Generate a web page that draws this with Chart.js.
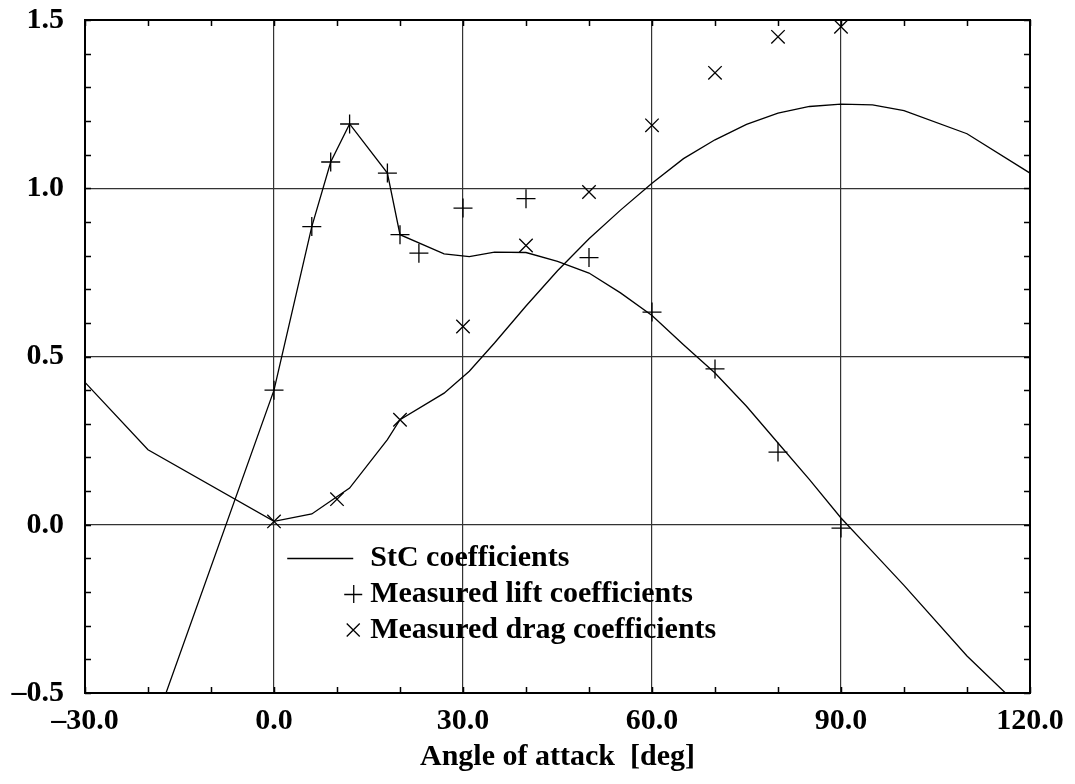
<!DOCTYPE html>
<html>
<head>
<meta charset="utf-8">
<script src="https://cdn.jsdelivr.net/npm/chart.js@4.4.1/dist/chart.umd.min.js"></script>
<style>
html,body{margin:0;padding:0;background:#fff;}
canvas{display:block;}
</style>
</head>
<body>
<canvas id="c" width="1075" height="784"></canvas>
<script>
// ---- data ----
const stcLiftX = [-20, 0, 6, 9, 12, 18, 20, 27, 31, 35, 40, 45, 50, 55, 60, 65, 70, 75, 80, 85, 90, 95, 100, 110, 120];
const stcLiftY = [-0.65, 0.40, 0.886, 1.078, 1.191, 1.045, 0.862, 0.805, 0.797, 0.810, 0.809, 0.783, 0.748, 0.689, 0.622, 0.535, 0.451, 0.352, 0.243, 0.134, 0.02, -0.08, -0.18, -0.39, -0.57];
const stcDragX = [-30, -20, 0, 6, 12, 18, 20, 27, 31, 35, 40, 45, 50, 55, 60, 65, 70, 75, 80, 85, 90, 95, 100, 110, 120];
const stcDragY = [0.423, 0.223, 0.010, 0.032, 0.109, 0.253, 0.312, 0.391, 0.456, 0.54, 0.65, 0.755, 0.85, 0.935, 1.015, 1.088, 1.144, 1.19, 1.223, 1.243, 1.25, 1.248, 1.231, 1.162, 1.045];
const liftX = [0, 6, 9, 12, 18, 20, 23, 30, 40, 50, 60, 70, 80, 90];
const liftY = [0.40, 0.886, 1.078, 1.191, 1.045, 0.862, 0.807, 0.941, 0.969, 0.794, 0.632, 0.463, 0.216, -0.010];
const dragX = [0, 10, 20, 30, 40, 50, 60, 70, 80, 90];
const dragY = [0.010, 0.076, 0.312, 0.589, 0.830, 0.989, 1.187, 1.343, 1.450, 1.480];
const xTickValues = [-30, 0, 30, 60, 90, 120];
const yTickValues = [-0.5, 0.0, 0.5, 1.0, 1.5];
const seriesLabels = ['StC coefficients', 'Measured lift coefficients', 'Measured drag coefficients'];
const xTitle = 'Angle of attack  [deg]';

const pts = (xs, ys) => xs.map((x, i) => ({x: x, y: ys[i]}));
const FONT = '"Liberation Serif", "Times New Roman", serif';
const fmt = v => { const s = Math.abs(v).toFixed(1); return v < -1e-9 ? '\u2013' + s : s; };

const frameAndTicks = {
  id: 'frameAndTicks',
  afterDatasetsDraw(chart) {
    const {ctx, chartArea: a, scales: {x, y}} = chart;
    ctx.save();
    ctx.strokeStyle = '#000';
    ctx.lineWidth = 1.5;
    const L = 6;
    ctx.beginPath();
    for (let v = -30; v <= 120; v += 10) {
      const px = Math.round(x.getPixelForValue(v)) + 0.5;
      ctx.moveTo(px, a.bottom); ctx.lineTo(px, a.bottom - L);
      ctx.moveTo(px, a.top); ctx.lineTo(px, a.top + L);
    }
    for (let k = -5; k <= 15; k++) {
      const py = Math.round(y.getPixelForValue(k / 10)) + 0.5;
      ctx.moveTo(a.left, py); ctx.lineTo(a.left + L, py);
      ctx.moveTo(a.right, py); ctx.lineTo(a.right - L, py);
    }
    ctx.stroke();
    ctx.lineWidth = 2;
    ctx.strokeRect(a.left, a.top, a.right - a.left, a.bottom - a.top);
    ctx.restore();
  }
};

const insideLegend = {
  id: 'insideLegend',
  afterDraw(chart) {
    const {ctx, scales: {x}} = chart;
    ctx.save();
    ctx.font = 'bold 30px ' + FONT;
    ctx.fillStyle = '#000';
    ctx.textBaseline = 'middle';
    ctx.textAlign = 'left';
    const x0 = x.getPixelForValue(2.1);
    const tx = x0 + 83;
    const rows = [558, 594, 630];
    ctx.strokeStyle = '#000';
    ctx.lineWidth = 1.3;
    ctx.beginPath();
    ctx.moveTo(x0, rows[0] + 0.5); ctx.lineTo(x0 + 66, rows[0] + 0.5);
    ctx.stroke();
    ctx.fillText(seriesLabels[0], tx, rows[0]);
    const mx = x0 + 66;
    ctx.beginPath();
    ctx.moveTo(mx - 9, rows[1] + 0.5); ctx.lineTo(mx + 9, rows[1] + 0.5);
    ctx.moveTo(mx + 0.5, rows[1] - 9); ctx.lineTo(mx + 0.5, rows[1] + 9);
    ctx.stroke();
    ctx.fillText(seriesLabels[1], tx, rows[1]);
    ctx.beginPath();
    ctx.moveTo(mx - 6.5, rows[2] - 6.5); ctx.lineTo(mx + 6.5, rows[2] + 6.5);
    ctx.moveTo(mx - 6.5, rows[2] + 6.5); ctx.lineTo(mx + 6.5, rows[2] - 6.5);
    ctx.stroke();
    ctx.fillText(seriesLabels[2], tx, rows[2]);
    ctx.restore();
  }
};

new Chart(document.getElementById('c'), {
  type: 'scatter',
  data: {
    datasets: [
      {type: 'line', label: seriesLabels[0], data: pts(stcLiftX, stcLiftY), borderColor: '#000', borderWidth: 1.3, pointRadius: 0, fill: false, tension: 0},
      {type: 'line', label: seriesLabels[0] + ' (drag)', data: pts(stcDragX, stcDragY), borderColor: '#000', borderWidth: 1.3, pointRadius: 0, fill: false, tension: 0},
      {label: seriesLabels[1], data: pts(liftX, liftY), pointStyle: 'cross', pointRadius: 9.5, pointBorderWidth: 1.3, borderColor: '#000', backgroundColor: '#000', showLine: false},
      {label: seriesLabels[2], data: pts(dragX, dragY), pointStyle: 'crossRot', pointRadius: 9.5, pointBorderWidth: 1.3, borderColor: '#000', backgroundColor: '#000', showLine: false}
    ]
  },
  options: {
    responsive: false,
    animation: false,
    devicePixelRatio: 1,
    layout: {padding: {left: 0, top: 20, right: 45, bottom: 0}},
    plugins: {legend: {display: false}, tooltip: {enabled: false}},
    scales: {
      x: {
        type: 'linear', min: -30, max: 120,
        afterBuildTicks: s => { s.ticks = xTickValues.map(v => ({value: v})); },
        afterFit: s => { s.height = 91; s.paddingLeft = 0; s.paddingRight = 0; },
        ticks: {color: '#000', font: {family: FONT, size: 30, weight: 'bold'}, padding: 10, callback: v => fmt(v), maxRotation: 0, autoSkip: false},
        grid: {color: c => (c.tick && (c.tick.value === -30 || c.tick.value === 120)) ? 'rgba(0,0,0,0)' : '#333', lineWidth: 1.2, drawTicks: false},
        border: {display: false},
        title: {display: true, text: xTitle, color: '#000', font: {family: FONT, size: 30, weight: 'bold'}, padding: {top: 0, bottom: 9}}
      },
      y: {
        type: 'linear', min: -0.5, max: 1.5,
        afterBuildTicks: s => { s.ticks = yTickValues.map(v => ({value: v})); },
        afterFit: s => { s.width = 85; s.paddingTop = 0; s.paddingBottom = 0; },
        ticks: {color: '#000', font: {family: FONT, size: 30, weight: 'bold'}, padding: 21, callback: v => fmt(v), autoSkip: false},
        grid: {color: c => (c.tick && (c.tick.value === -0.5 || c.tick.value === 1.5)) ? 'rgba(0,0,0,0)' : '#333', lineWidth: 1.2, drawTicks: false},
        border: {display: false}
      }
    }
  },
  plugins: [frameAndTicks, insideLegend]
});
</script>
</body>
</html>
